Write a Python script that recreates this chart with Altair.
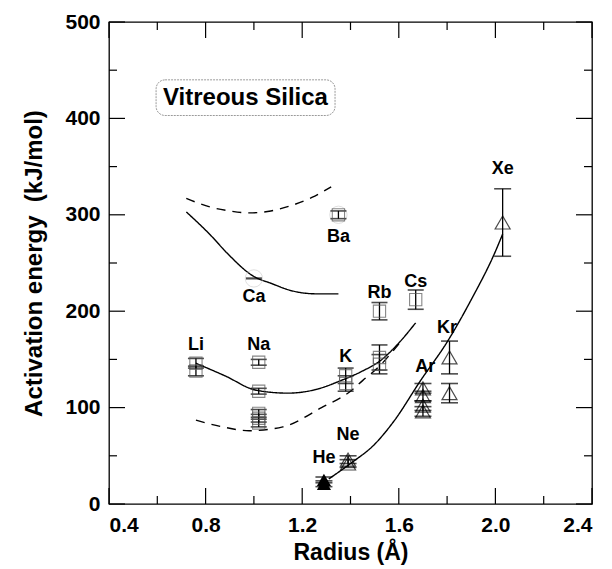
import altair as alt
import pandas as pd

# ---------------- data ----------------
# cations (open squares)
sq_r = [0.76, 0.76, 1.02, 1.02, 1.02, 1.02, 1.02, 1.38, 1.38, 1.52, 1.52, 1.52, 1.67, 1.35]
sq_E = [146, 138, 147, 117, 94, 89, 84, 133, 125, 200, 152, 145, 212, 300]
sq_err = [5, 5, 3, 3, 4, 4, 4, 8, 8, 9, 13, 10, 10, 4]

# Ca (shown only as a bar)
ca_r = [1.00]
ca_E = [234]

# circled points (faint rings)
ring_r = [1.00, 1.35]
ring_E = [234, 300]

# noble gases (triangles)
tri_r = [1.29, 1.29, 1.39, 1.39, 1.70, 1.70, 1.70, 1.70, 1.81, 1.81, 2.03]
tri_E = [25, 21, 46, 42, 120, 112, 102, 96, 152, 115, 292]
tri_err = [3, 3, 4, 4, 5, 5, 5, 5, 17, 10, 35]
tri_filled = [True, True, False, False, False, False, False, False, False, False, False]

# element labels
lab_text = ["Li", "Na", "K", "Rb", "Cs", "Ca", "Ba", "He", "Ne", "Ar", "Kr", "Xe"]
lab_r = [0.76, 1.02, 1.38, 1.52, 1.67, 1.00, 1.35, 1.29, 1.39, 1.71, 1.80, 2.03]
lab_E = [165, 165, 152, 219, 230, 215, 277, 48, 72, 142, 183, 348]

# curves
c1_r = [0.72, 0.82, 0.89, 1.00, 1.07, 1.16, 1.26, 1.35]          # solid Ca-Ba
c1_E = [303, 279, 260, 236, 229, 221, 218, 218]
d1_r = [0.72, 0.82, 0.90, 0.98, 1.07, 1.16, 1.24, 1.32]          # dashed upper
d1_E = [317, 308, 304, 302, 304, 310, 318, 329]
c2_r = [0.76, 0.88, 1.01, 1.14, 1.26, 1.36, 1.45, 1.52, 1.60, 1.67]  # solid alkali
c2_E = [146, 133, 118, 115, 119, 128, 138, 148, 167, 188]
d2_r = [0.76, 0.87, 0.98, 1.12, 1.28, 1.40, 1.45, 1.52, 1.57, 1.62]  # dashed lower
d2_E = [87, 80, 76, 80, 100, 117, 128, 143, 157, 172]
c3_r = [1.31, 1.40, 1.50, 1.58, 1.69, 1.80, 1.90, 2.00, 2.03]    # noble gases
c3_E = [26, 42, 62, 86, 128, 168, 212, 262, 280]

# annotation box
box_r = [0.595]
box_r2 = [1.336]
box_E = [403]
box_E2 = [440]
box_label = ["Vitreous Silica"]
box_lr = [0.965]
box_lE = [421]

# axis ticks
x_major = [0.4, 0.8, 1.2, 1.6, 2.0, 2.4]
x_minor = [0.6, 1.0, 1.4, 1.8, 2.2]
y_major = [0, 100, 200, 300, 400, 500]
y_minor = [50, 150, 250, 350, 450]

# ---------------- chart ----------------
W, H = 483, 482
FONT = "Liberation Sans"
xs = alt.Scale(domain=[0.4, 2.4], nice=False, zero=False)
ys = alt.Scale(domain=[0, 500], nice=False, zero=True)

sq = pd.DataFrame({"r": sq_r, "E": sq_E, "err": sq_err})
sq["lo"] = sq["E"] - sq["err"]
sq["hi"] = sq["E"] + sq["err"]
tri = pd.DataFrame({"r": tri_r, "E": tri_E, "err": tri_err, "filled": tri_filled})
tri["lo"] = tri["E"] - tri["err"]
tri["hi"] = tri["E"] + tri["err"]

x_axis = alt.Axis(values=x_major, format=".1f", ticks=False, tickSize=0, domain=False, grid=False,
                  labelFont=FONT, labelFontWeight="bold", labelFontSize=21, labelColor="black",
                  labelPadding=10, title="Radius (Å)", titleFont=FONT, titleFontWeight="bold",
                  titleFontSize=23, titleColor="black", titlePadding=6)
y_axis = alt.Axis(values=y_major, format="d", ticks=False, tickSize=0, domain=False, grid=False,
                  labelFont=FONT, labelFontWeight="bold", labelFontSize=21, labelColor="black",
                  labelPadding=9, title="Activation energy\u00a0 (kJ/mol)", titleFont=FONT,
                  titleFontWeight="bold", titleFontSize=24, titleColor="black", titlePadding=18)


def X(f="r"):
    return alt.X(f"{f}:Q", scale=xs, axis=x_axis)


def Y(f="E"):
    return alt.Y(f"{f}:Q", scale=ys, axis=y_axis)


# curves
def curve(rs, es, dashed):
    df = pd.DataFrame({"r": rs, "E": es})
    m = alt.Chart(df).mark_line(color="black", strokeWidth=1.4, interpolate="monotone",
                                strokeDash=[9, 7] if dashed else [1, 0])
    return m.encode(x=X(), y=Y())


curves = [curve(c1_r, c1_E, False), curve(d1_r, d1_E, True), curve(c2_r, c2_E, False),
          curve(d2_r, d2_E, True), curve(c3_r, c3_E, False)]

# error bars
sq_bar = alt.Chart(sq).mark_rule(color="black", strokeWidth=1.3).encode(x=X(), y=Y("lo"), y2="hi")
sq_cap_lo = alt.Chart(sq).mark_tick(orient="horizontal", color="black", size=16, thickness=1.6).encode(x=X(), y=Y("lo"))
sq_cap_hi = alt.Chart(sq).mark_tick(orient="horizontal", color="black", size=16, thickness=1.6).encode(x=X(), y=Y("hi"))
sq_pts = alt.Chart(sq).mark_point(shape="square", size=150, filled=False, color="#555555",
                                  strokeWidth=1.1).encode(x=X(), y=Y())

tri_bar = alt.Chart(tri).mark_rule(color="black", strokeWidth=1.3).encode(x=X(), y=Y("lo"), y2="hi")
tri_cap_lo = alt.Chart(tri).mark_tick(orient="horizontal", color="black", size=17, thickness=1.6).encode(x=X(), y=Y("lo"))
tri_cap_hi = alt.Chart(tri).mark_tick(orient="horizontal", color="black", size=17, thickness=1.6).encode(x=X(), y=Y("hi"))
tri_open = alt.Chart(tri[~tri["filled"]]).mark_point(shape="triangle-up", size=225, filled=False,
                                                     color="black", strokeWidth=1.2).encode(x=X(), y=Y())
tri_fill = alt.Chart(tri[tri["filled"]]).mark_point(shape="triangle-up", size=200, filled=True,
                                                    color="black", opacity=1).encode(x=X(), y=Y())

rings = alt.Chart(pd.DataFrame({"r": ring_r, "E": ring_E})).mark_point(
    shape="circle", size=300, filled=False, color="#c8c8c8", strokeWidth=0.8).encode(x=X(), y=Y())
ca = alt.Chart(pd.DataFrame({"r": ca_r, "E": ca_E})).mark_tick(
    orient="horizontal", color="black", size=16, thickness=2.2).encode(x=X(), y=Y())

labels = alt.Chart(pd.DataFrame({"t": lab_text, "r": lab_r, "E": lab_E})).mark_text(
    font=FONT, fontWeight="bold", fontSize=18, color="black", baseline="middle", align="center"
).encode(x=X(), y=Y(), text="t:N")

box = alt.Chart(pd.DataFrame({"r": box_r, "r2": box_r2, "E": box_E, "E2": box_E2})).mark_rect(
    fill="white", stroke="#9a9a9a", strokeWidth=1, strokeDash=[2, 1], cornerRadius=9
).encode(x=X(), x2="r2", y=Y(), y2="E2")
box_text = alt.Chart(pd.DataFrame({"t": box_label, "r": box_lr, "E": box_lE})).mark_text(
    font=FONT, fontWeight="bold", fontSize=24, color="black", baseline="middle", align="center"
).encode(x=X(), y=Y(), text="t:N")


# inward ticks on all four sides
def xt(vals, ln):
    d = pd.DataFrame({"r": vals})
    b = alt.Chart(d).mark_rule(color="black", strokeWidth=1.2).encode(
        x=X(), y=alt.value(H), y2=alt.value(H - ln))
    t = alt.Chart(d).mark_rule(color="black", strokeWidth=1.2).encode(
        x=X(), y=alt.value(0), y2=alt.value(ln))
    return [b, t]


def yt(vals, ln):
    d = pd.DataFrame({"E": vals})
    l = alt.Chart(d).mark_rule(color="black", strokeWidth=1.2).encode(
        y=Y(), x=alt.value(0), x2=alt.value(ln))
    r = alt.Chart(d).mark_rule(color="black", strokeWidth=1.2).encode(
        y=Y(), x=alt.value(W), x2=alt.value(W - ln))
    return [l, r]


ticks = xt(x_major, 16) + xt(x_minor, 8) + yt(y_major, 16) + yt(y_minor, 8)

chart = alt.layer(
    *ticks, *curves, rings, ca,
    sq_bar, sq_cap_lo, sq_cap_hi, sq_pts,
    tri_bar, tri_cap_lo, tri_cap_hi, tri_open, tri_fill,
    labels, box, box_text
).properties(
    width=W, height=H,
    autosize=alt.AutoSizeParams(type="none"),
    padding={"left": 109, "top": 22, "right": 20, "bottom": 65},
    background="white",
).configure_view(stroke="black", strokeWidth=1.3)

chart.save("out.html", embed_options={"renderer": "svg", "actions": False})
